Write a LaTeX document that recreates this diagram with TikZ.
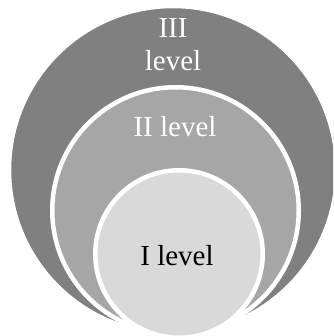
\documentclass[tikz,border=0pt]{standalone}
\usepackage{fontspec}
\setmainfont{Liberation Serif}
\usepackage{xcolor}
\usepackage{tikz}
\usetikzlibrary{positioning}
\definecolor{ringdark}{RGB}{128,128,128}
\definecolor{ringmid}{RGB}{166,166,166}
\definecolor{ringlight}{RGB}{217,217,217}
\tikzset{
  ring/.style={circle, draw=white, line width=4.5pt, inner sep=0pt},
  lvltext/.style={font=\fontsize{29}{33}\selectfont, align=center, inner sep=0pt}
}

\begin{document}
\begin{tikzpicture}[
  x=1pt, y=-1pt,
  outerring/.style={ring, fill=ringdark, minimum size=328pt},
  midring/.style={ring, fill=ringmid, minimum size=246.5pt},
  innerring/.style={ring, fill=ringlight, minimum size=167.5pt}
]
  \useasboundingbox (0,0) rectangle (333,336);
  \clip (0,0) rectangle (333,336);

  % Nested circles
  \node[outerring] (L3) at (173,170) {};
  \node[midring] (L2) at (175.5,210.5) {};
  \node[innerring] (L1) at (179,254) {};

  % Labels
  \node[lvltext, text=white, anchor=base] (T3) at (173,71) {III\\level};
  \node[lvltext, text=white, anchor=base] (T2) at (175,137) {II level};
  \node[lvltext, text=black, anchor=base] (T1) at (177,265) {I level};
\end{tikzpicture}
\end{document}
